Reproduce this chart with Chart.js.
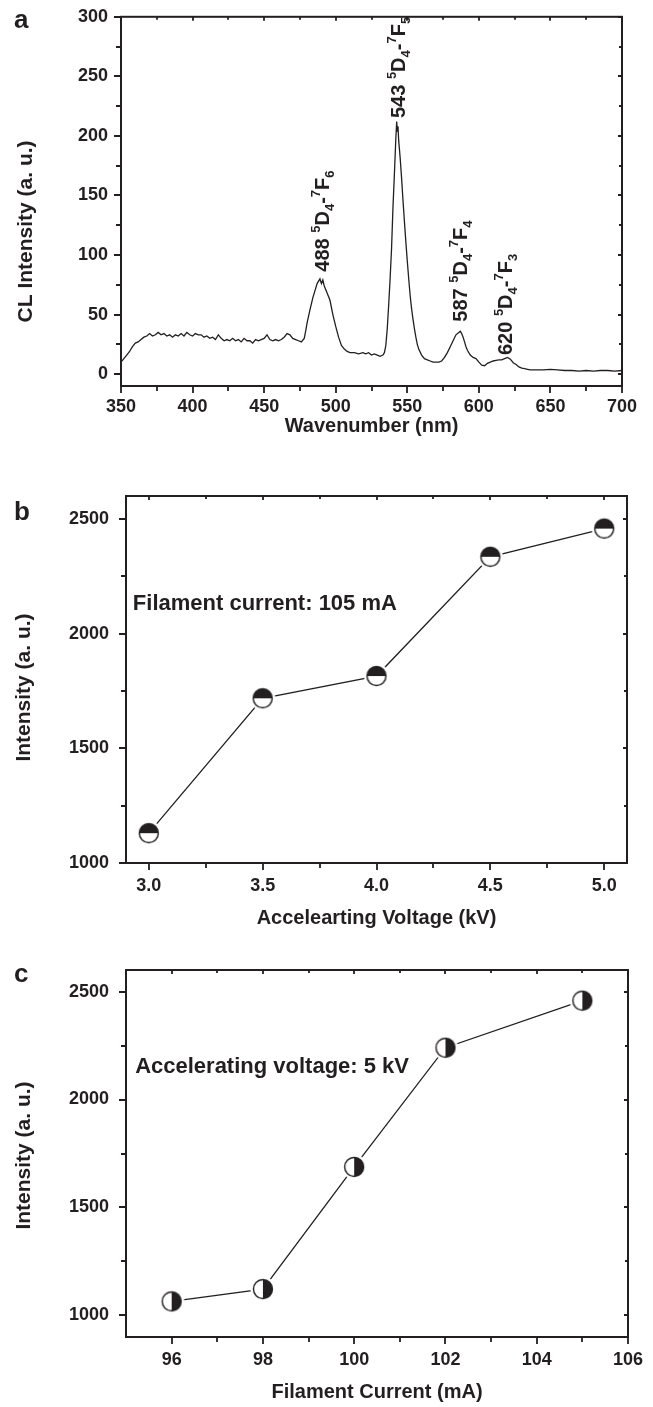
<!DOCTYPE html>
<html>
<head>
<meta charset="utf-8">
<script src="https://cdn.jsdelivr.net/npm/chart.js@4.4.0/dist/chart.umd.min.js"></script>
<style>
  body { margin: 0; background: #fff; width: 653px; height: 1407px; position: relative; overflow: hidden; }
  canvas { position: absolute; left: 0; }
  .tag { position: absolute; left: 14px; font: bold 26px "Liberation Sans", Arial, sans-serif; line-height: 1; color: #231f20; }
</style>
</head>
<body>
<canvas id="chartA" width="653" height="450" style="top:0"></canvas>
<canvas id="chartB" width="653" height="495" style="top:450px"></canvas>
<canvas id="chartC" width="653" height="462" style="top:945px"></canvas>
<div class="tag" style="top:6px">a</div>
<div class="tag" style="top:498px">b</div>
<div class="tag" style="top:960px">c</div>
<script>
// panel a: CL spectrum
const waveNm = [350, 352, 354, 356, 358, 360, 362, 364, 366, 368, 370, 372, 374, 376, 378, 380, 382, 384, 386, 388,
  390, 392, 394, 396, 398, 400, 402, 404, 406, 408, 410, 412, 414, 416, 418, 420, 422, 424, 426, 428,
  430, 432, 434, 436, 438, 440, 442, 444, 446, 448, 450, 452, 454, 456, 458, 460, 462, 464, 466, 468,
  470, 472, 474, 476, 478, 479, 480, 482, 484, 486, 487, 488, 489, 490, 491, 492, 494, 496, 498, 500,
  502, 504, 506, 508, 510, 513, 516, 519, 521, 523, 525, 527, 529, 531, 533, 534, 535, 536, 537, 538,
  539, 540, 541, 542, 542.6, 543, 543.5, 544, 545, 546, 547, 548, 549, 550, 551, 552, 553, 554, 555, 556,
  557, 558, 560, 562, 564, 566, 568, 570, 572, 574, 576, 578, 580, 582, 584, 586, 587, 588, 589, 590,
  591, 592, 594, 596, 598, 600, 602, 604, 606, 608, 610, 612, 614, 616, 618, 620, 622, 624, 626, 628,
  630, 632, 634, 636, 640, 645, 650, 655, 660, 665, 670, 675, 680, 685, 690, 695, 700];
const clIntensity = [10, 13, 16, 19, 23, 26, 27, 29, 31, 32, 34, 32, 33, 35, 33, 34, 32, 33, 31, 33,
  32, 34, 32, 35, 33, 32, 34, 33, 33, 31, 32, 30, 31, 29, 33, 30, 28, 29, 28, 30,
  28, 29, 27, 30, 28, 28, 26, 29, 28, 29, 30, 33, 29, 28, 29, 28, 29, 31, 34, 33,
  30, 29, 28, 27, 30, 36, 43, 54, 64, 72, 76, 78, 80, 76, 79, 74, 68, 62, 50, 40,
  31, 24, 21, 19, 18, 18, 17, 18, 17, 18, 16, 17, 16, 15, 16, 18, 24, 38, 58, 80,
  105, 140, 168, 198, 212, 204, 208, 196, 182, 165, 146, 128, 111, 95, 80, 66, 55, 46, 38, 31,
  25, 21, 16, 13, 12, 11, 10, 10, 10, 11, 14, 18, 23, 28, 33, 35, 36, 34, 31, 27,
  23, 20, 16, 14, 13, 10, 7.5, 7, 9, 10, 11, 11.5, 12, 12, 13, 14, 12.5, 9.5, 8, 6,
  5, 4.5, 4, 3.5, 3.5, 3.5, 4, 3.5, 3, 3, 2.5, 3, 2.5, 3, 3, 2.5, 3];
const peakNm = ['488', '543', '587', '620'];
const peakLevel = ['6', '5', '4', '3'];
const aXTicks = [350, 400, 450, 500, 550, 600, 650, 700];
const aYTicks = [0, 50, 100, 150, 200, 250, 300];

// panel b: intensity vs accelerating voltage
const voltageKV = [3.0, 3.5, 4.0, 4.5, 5.0];
const intensityB = [1130, 1718, 1815, 2335, 2458];
const bXTicks = [3.0, 3.5, 4.0, 4.5, 5.0];
const bYTicks = [1000, 1500, 2000, 2500];

// panel c: intensity vs filament current
const currentMA = [96, 98, 100, 102, 105];
const intensityC = [1065, 1122, 1688, 2240, 2458];
const cXTicks = [96, 98, 100, 102, 104, 106];
const cYTicks = [1000, 1500, 2000, 2500];

const FONT = '"Liberation Sans", Arial, sans-serif';
const INK = '#231f20';

function marker(half) {
  const c = document.createElement('canvas');
  c.width = 26; c.height = 26;
  const g = c.getContext('2d');
  g.fillStyle = '#fff';
  g.beginPath(); g.arc(13, 13, 12.5, 0, Math.PI * 2); g.fill();
  g.fillStyle = INK;
  g.beginPath();
  if (half === 'top') g.arc(13, 13, 9.5, Math.PI, 0);
  else g.arc(13, 13, 9.5, -Math.PI / 2, Math.PI / 2);
  g.closePath(); g.fill();
  g.strokeStyle = INK; g.lineWidth = 1.4;
  g.beginPath(); g.arc(13, 13, 9.5, 0, Math.PI * 2); g.stroke();
  return c;
}

function axis(pos, min, max, tickVals, fmt, title, size, labelPad, titlePad) {
  return {
    type: 'linear', position: pos, min: min, max: max,
    afterBuildTicks: s => { s.ticks = tickVals.map(v => ({ value: v })); },
    afterFit: s => { if (pos === 'left') s.width = size; else s.height = size; },
    grid: { display: false, drawTicks: true, tickLength: 7 },
    border: { display: false },
    ticks: { color: INK, font: { family: FONT, weight: 'bold', size: 18 }, padding: labelPad,
      maxRotation: 0, autoSkip: false, callback: v => fmt(v) },
    // y titles are drawn by the deco plugin so they can sit off-centre like the original
    title: { display: pos !== 'left', text: title, color: INK, font: { family: FONT, weight: 'bold', size: 20 },
      padding: { top: 0, bottom: titlePad } }
  };
}

// frame, minor ticks, y title and text labels
const deco = {
  id: 'deco',
  afterDatasetsDraw(chart, args, o) {
    const { ctx, chartArea: a, scales: { x, y } } = chart;
    ctx.save();
    ctx.strokeStyle = INK;
    ctx.lineWidth = 2;
    ctx.strokeRect(a.left, a.top, a.right - a.left, a.bottom - a.top);
    ctx.lineWidth = 1.8;
    ctx.beginPath();
    for (let i = 0; ; i++) {
      const v = o.xStart + i * o.xStep;
      if (v > x.max + 1e-9) break;
      const major = i % 2 === 0;
      const px = Math.round(x.getPixelForValue(v));
      ctx.moveTo(px, a.bottom); ctx.lineTo(px, a.bottom + (major ? 7 : 5));
      ctx.moveTo(px, a.top); ctx.lineTo(px, a.top + (major ? 4 : 3));
    }
    for (let i = 0; ; i++) {
      const v = o.yStart + i * o.yStep;
      if (v > y.max + 1e-9) break;
      const major = i % 2 === 0;
      const py = Math.round(y.getPixelForValue(v));
      ctx.moveTo(a.left, py); ctx.lineTo(a.left - (major ? 7 : 5), py);
      ctx.moveTo(a.right, py); ctx.lineTo(a.right - (major ? 4 : 3), py);
    }
    ctx.stroke();
    ctx.fillStyle = INK;

    ctx.save();
    ctx.font = 'bold ' + o.yTitle.size + 'px ' + FONT;
    ctx.translate(o.yTitle.x, (a.top + a.bottom) / 2 + o.yTitle.shift);
    ctx.rotate(-Math.PI / 2);
    ctx.textAlign = 'center'; ctx.textBaseline = 'middle';
    ctx.fillText(o.yTitle.text, 0, 0);
    ctx.restore();

    if (o.peaks) {
      o.peaks.forEach((p, i) => {
        const px = x.getPixelForValue(p.x), py = y.getPixelForValue(p.y);
        const f = 20, s = 13;
        ctx.save();
        ctx.translate(px + f * 0.36, py);
        ctx.rotate(-Math.PI / 2);
        ctx.textBaseline = 'alphabetic'; ctx.textAlign = 'left';
        let cx = 0;
        const seg = (t, size, dy) => {
          ctx.font = 'bold ' + size + 'px ' + FONT;
          ctx.fillText(t, cx, dy);
          cx += ctx.measureText(t).width;
        };
        seg(peakNm[i] + ' ', f, 0);
        seg('5', s, -f * 0.45);
        seg('D', f, 0);
        seg('4', s, f * 0.22);
        seg('-', f, 0);
        seg('7', s, -f * 0.45);
        seg('F', f, 0);
        seg(peakLevel[i], s, f * 0.22);
        ctx.restore();
      });
    }
    if (o.note) {
      ctx.font = 'bold 22px ' + FONT;
      ctx.textBaseline = 'alphabetic'; ctx.textAlign = 'left';
      ctx.fillText(o.note.text, x.getPixelForValue(o.note.x), y.getPixelForValue(o.note.y));
    }
    ctx.restore();
  }
};

const common = {
  responsive: false, animation: false, devicePixelRatio: 1,
  events: []
};

new Chart(document.getElementById('chartA'), {
  type: 'line',
  data: {
    datasets: [{
      data: waveNm.map((w, i) => ({ x: w, y: clIntensity[i] })),
      borderColor: INK, borderWidth: 1.3, pointRadius: 0, tension: 0, fill: false
    }]
  },
  options: {
    ...common,
    layout: { padding: { top: 16, right: 31, left: 0, bottom: 0 } },
    scales: {
      x: axis('bottom', 350, 700, aXTicks, v => String(v), 'Wavenumber (nm)', 64, 3, 12),
      y: axis('left', -10, 300, aYTicks, v => String(v), '', 121, 6, 0)
    },
    plugins: {
      legend: { display: false }, tooltip: { enabled: false },
      deco: {
        xStart: 350, xStep: 25, yStart: 0, yStep: 25,
        yTitle: { text: 'CL Intensity (a. u.)', x: 26, shift: 30, size: 21 },
        peaks: [{ x: 490.5, y: 86 }, { x: 543.6, y: 215 }, { x: 587, y: 44 }, { x: 618.3, y: 16 }]
      }
    }
  },
  plugins: [deco]
});

new Chart(document.getElementById('chartB'), {
  type: 'line',
  data: {
    datasets: [{
      data: voltageKV.map((v, i) => ({ x: v, y: intensityB[i] })),
      borderColor: INK, borderWidth: 1.3, tension: 0,
      pointStyle: marker('top'), pointRadius: 9
    }]
  },
  options: {
    ...common,
    layout: { padding: { top: 46, right: 26, left: 0, bottom: 0 } },
    scales: {
      x: axis('bottom', 2.9, 5.1, bXTicks, v => v.toFixed(1), 'Accelearting Voltage (kV)', 82, 5, 15),
      y: axis('left', 1000, 2600, bYTicks, v => String(v), '', 126, 10, 0)
    },
    plugins: {
      legend: { display: false }, tooltip: { enabled: false },
      deco: { xStart: 3.0, xStep: 0.25, yStart: 1000, yStep: 250,
        yTitle: { text: 'Intensity (a. u.)', x: 24, shift: 8, size: 21 },
        note: { text: 'Filament current: 105 mA', x: 2.93, y: 2105 } }
    }
  },
  plugins: [deco]
});

new Chart(document.getElementById('chartC'), {
  type: 'line',
  data: {
    datasets: [{
      data: currentMA.map((v, i) => ({ x: v, y: intensityC[i] })),
      borderColor: INK, borderWidth: 1.3, tension: 0,
      pointStyle: marker('right'), pointRadius: 9
    }]
  },
  options: {
    ...common,
    layout: { padding: { top: 25, right: 25, left: 0, bottom: 0 } },
    scales: {
      x: axis('bottom', 95, 106, cXTicks, v => String(v), 'Filament Current (mA)', 70, 5, 3),
      y: axis('left', 900, 2600, cYTicks, v => String(v), '', 126, 10, 0)
    },
    plugins: {
      legend: { display: false }, tooltip: { enabled: false },
      deco: { xStart: 96, xStep: 1, yStart: 1000, yStep: 250,
        yTitle: { text: 'Intensity (a. u.)', x: 24, shift: 2, size: 21 },
        note: { text: 'Accelerating voltage: 5 kV', x: 95.2, y: 2123 } }
    }
  },
  plugins: [deco]
});
</script>
</body>
</html>
